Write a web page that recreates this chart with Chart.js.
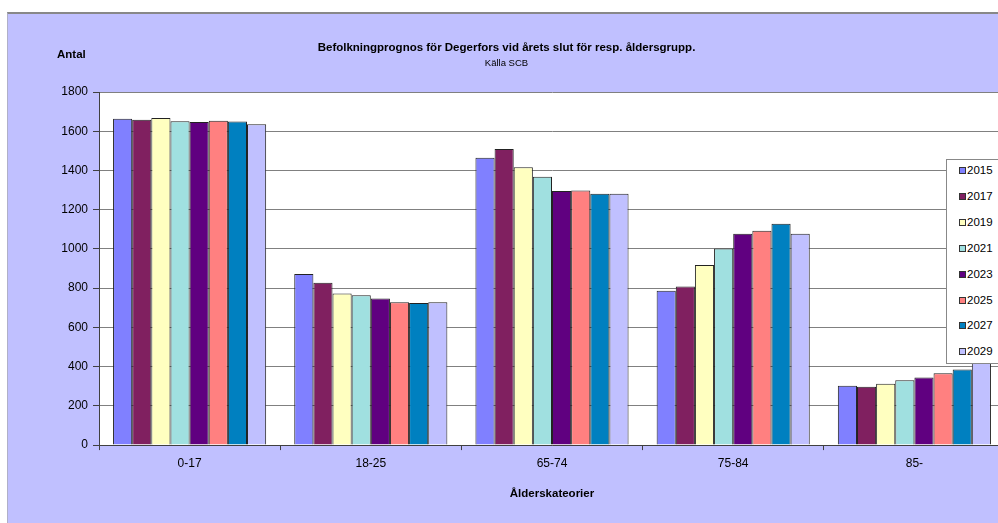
<!DOCTYPE html>
<html>
<head>
<meta charset="utf-8">
<script src="https://cdn.jsdelivr.net/npm/chart.js@4"></script>
<style>
  html, body { margin: 0; padding: 0; background: #fff; overflow: hidden; width: 998px; height: 523px; }
  #frame {
    position: absolute; left: 7px; top: 12px; width: 1013px; height: 511px;
    background: #C0C0FF; border-top: 2px solid #888; border-left: 1px solid #b0b0c8;
  }
  #chart { position: absolute; left: 0; top: 0; }
  #legend {
    position: absolute; left: 946px; top: 159px; width: 64px; height: 203px;
    background: #fff; border: 1px solid #888;
    font-family: 'Liberation Sans', Arial, sans-serif; font-size: 11.5px; color: #000;
  }
  #legend div { position: absolute; left: 12px; height: 14px; line-height: 14px; white-space: nowrap; }
  #legend span { display: inline-block; width: 5px; height: 5px; border: 1px solid #333; margin-right: 1px; vertical-align: 0px; }
</style>
</head>
<body>
<div id="frame"><canvas id="chart" width="1012" height="509"></canvas></div>
<div id="legend"></div>
<script>
const categories = ['0-17', '18-25', '65-74', '75-84', '85-'];
const years = ['2015', '2017', '2019', '2021', '2023', '2025', '2027', '2029'];

const y2015 = [1664, 872, 1465, 787, 303];
const y2017 = [1659, 828, 1510, 808, 298];
const y2019 = [1668, 773, 1417, 918, 313];
const y2021 = [1651, 764, 1368, 1002, 330];
const y2023 = [1647, 747, 1295, 1077, 344];
const y2025 = [1653, 728, 1298, 1093, 366];
const y2027 = [1650, 725, 1281, 1129, 386];
const y2029 = [1636, 728, 1281, 1077, 425];

const series = [y2015, y2017, y2019, y2021, y2023, y2025, y2027, y2029];
const colors = ['#8080FF', '#802060', '#FFFFC0', '#A0E0E0', '#600080', '#FF8080', '#0080C0', '#C0C0FF'];

const FONT = "'Liberation Sans', Arial, sans-serif";

const plotBackground = {
  id: 'plotBackground',
  beforeDraw(chart) {
    const { ctx, chartArea: a } = chart;
    ctx.save();
    ctx.fillStyle = '#fff';
    ctx.fillRect(a.left, a.top, a.right - a.left, a.bottom - a.top);
    ctx.restore();
  },
  afterDraw(chart) {
    // "Antal" sits horizontally above the value axis, like in Excel
    const { ctx, chartArea: a } = chart;
    ctx.save();
    ctx.font = 'bold 11.5px ' + FONT;
    ctx.fillStyle = '#000';
    ctx.textBaseline = 'middle';
    ctx.fillText('Antal', a.left - 42, a.top - 37);
    ctx.restore();
  }
};

const chart = new Chart(document.getElementById('chart'), {
  type: 'bar',
  data: {
    labels: categories,
    datasets: years.map((y, i) => ({
      label: y,
      data: series[i],
      backgroundColor: colors[i],
      borderColor: '#222',
      borderWidth: 1,
      categoryPercentage: 0.845,
      barPercentage: 1
    }))
  },
  options: {
    responsive: false,
    animation: false,
    devicePixelRatio: 1,
    layout: { padding: { left: 0, right: 15, top: 0, bottom: 22 } },
    plugins: {
      legend: { display: false },
      tooltip: { enabled: false },
      title: {
        display: true,
        text: 'Befolkningprognos för Degerfors vid årets slut för resp. åldersgrupp.',
        color: '#000',
        font: { family: FONT, size: 11.5, weight: 'bold' },
        padding: { top: 27, bottom: 0 }
      },
      subtitle: {
        display: true,
        text: 'Källa SCB',
        color: '#000',
        font: { family: FONT, size: 9.5 },
        padding: { top: 2.5, bottom: 23.3 }
      }
    },
    scales: {
      x: {
        offset: true,
        grid: { drawOnChartArea: false, tickLength: 5, tickColor: '#404040', offset: true },
        border: { color: '#404040' },
        ticks: { color: '#000', font: { family: FONT, size: 12 }, padding: 6 },
        title: {
          display: true,
          text: 'Ålderskateorier',
          color: '#000',
          font: { family: FONT, size: 11.5, weight: 'bold' },
          padding: { top: 10.7, bottom: 0 }
        }
      },
      y: {
        min: 0,
        max: 1800,
        ticks: {
          stepSize: 200, color: '#000', font: { family: FONT, size: 12 }, padding: 5,
          callback: (v) => String(v)
        },
        grid: { color: '#808080', tickColor: '#404040', tickLength: 6 },
        border: { color: '#404040' },
        afterFit(scale) { scale.width = 91; }
      }
    }
  },
  plugins: [plotBackground]
});

// legend box built from the same series names and colours
const legend = document.getElementById('legend');
years.forEach((y, i) => {
  const row = document.createElement('div');
  row.style.top = (3 + i * 25.9) + 'px';
  const sw = document.createElement('span');
  sw.style.background = colors[i];
  row.appendChild(sw);
  row.appendChild(document.createTextNode(y));
  legend.appendChild(row);
});
</script>
</body>
</html>
